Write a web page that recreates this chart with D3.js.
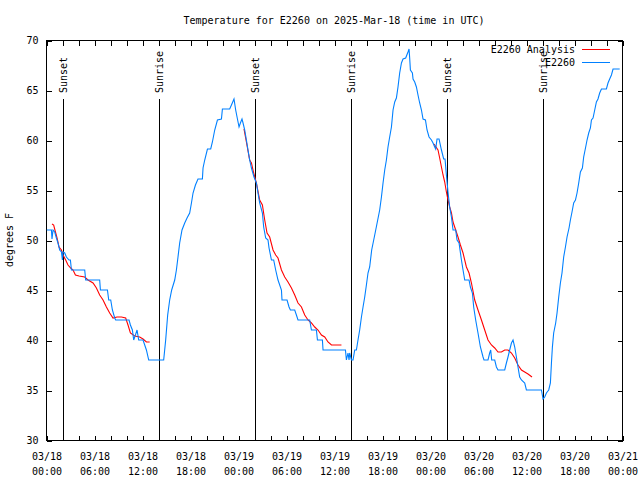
<!DOCTYPE html>
<html>
<head>
<meta charset="utf-8">
<script src="https://cdn.jsdelivr.net/npm/d3@7"></script>
<style>
  html, body { margin: 0; padding: 0; background: #fff; }
  svg { display: block; }
  text { font-family: "DejaVu Sans Mono", "Liberation Mono", monospace; font-size: 10px; fill: #000; }
</style>
</head>
<body>
<svg id="chart" width="640" height="480"></svg>
<script>
// ---------------- DATA ----------------
const chartTitle = "Temperature for E2260 on 2025-Mar-18 (time in UTC)";
const yAxisLabel = "degrees F";
const startUtc = "2025-03-18T00:00:00Z";
const spanHours = 72;
const yTickValues = [30, 35, 40, 45, 50, 55, 60, 65, 70];
const xTickStepHours = 2;
const xLabelStepHours = 6;

// Sun events: hours after 03/18 00:00 UTC
const sunEventHours = [2.15, 14.15, 26.15, 38.15, 50.15, 62.1];
const sunEventLabels = ["Sunset", "Sunrise", "Sunset", "Sunrise", "Sunset", "Sunrise"];

const seriesNames = ["E2260 Analysis", "E2260"];
const seriesColors = ["#ff0000", "#0080ff"];

// Observations (E2260): hours after start, temperature °F
const obsHours = [0.1,0.68,0.75,0.88,1.09,1.3,1.5,1.71,1.93,2.05,
  2.13,2.34,2.55,2.88,3.05,3.18,4.84,4.96,6.71,6.8,
  7.68,7.84,8.09,8.3,8.59,8.71,10.38,10.55,10.8,10.96,
  11.18,11.38,11.59,12.13,12.34,12.55,12.84,14.71,14.96,15.21,
  15.46,15.71,16.09,16.3,16.5,16.71,17.0,17.34,17.63,17.96,
  18.18,18.38,18.68,19.0,19.55,19.63,19.84,20.18,20.59,20.8,
  21.09,21.43,21.93,22.05,22.96,23.18,23.5,23.71,23.88,24.13,
  24.3,24.5,24.63,24.84,25.05,25.25,25.46,25.68,26.0,26.3,
  26.5,26.71,27.05,27.21,27.46,27.75,27.88,28.18,28.46,28.71,
  29.0,29.43,29.5,30.13,30.38,30.55,31.09,31.3,31.5,32.96,
  33.18,33.8,33.93,34.55,34.63,37.43,37.55,37.75,37.88,37.96,
  38.18,38.38,38.59,38.8,39.0,39.21,39.43,39.63,39.84,40.05,
  40.25,40.46,40.71,41.09,41.34,41.71,41.93,42.13,42.34,42.55,
  42.75,42.96,43.18,43.38,43.59,43.8,44.0,44.21,44.43,44.63,
  44.96,45.25,45.38,45.46,45.55,45.8,45.88,46.09,46.3,46.5,
  46.71,46.93,47.13,47.43,47.63,47.88,48.18,48.38,48.59,48.71,
  48.88,49.13,49.43,49.71,49.88,50.05,50.25,50.46,50.68,50.88,
  51.21,51.38,51.63,51.93,52.13,52.34,52.88,53.05,53.3,53.46,
  53.71,54.0,54.3,54.63,54.75,55.25,55.46,55.59,55.71,56.09,
  56.3,56.5,57.34,57.55,57.75,57.96,58.18,58.38,58.59,58.8,
  59.0,59.21,59.43,59.84,60.05,61.93,62.13,62.34,62.55,62.84,
  63.05,63.18,63.3,63.46,63.71,63.88,64.09,64.3,64.5,64.71,
  64.93,65.13,65.38,65.55,65.75,65.96,66.18,66.38,66.59,66.8,
  67.05,67.21,67.46,67.63,67.84,68.05,68.18,68.38,68.59,68.8,
  69.0,69.21,69.43,70.05,70.25,70.46,70.68,70.88,71.71];
const obsTempF = [51.0,51.0,50.1,51.0,50.8,50.2,49.7,49.0,48.8,48.0,
  48.8,48.7,48.3,48.0,48.0,47.0,47.0,46.0,46.0,45.0,
  45.0,44.0,44.0,43.0,42.2,42.0,42.0,41.5,41.0,40.0,
  40.5,41.0,40.0,40.0,39.5,39.0,38.0,38.0,40.0,42.5,
  44.0,45.0,46.0,47.0,48.3,49.7,51.0,51.7,52.2,52.7,
  53.7,54.7,55.5,56.1,56.1,57.2,58.0,59.1,59.1,59.8,
  61.0,62.0,62.1,63.1,63.1,63.5,64.1,63.0,62.3,61.3,
  61.7,62.1,61.7,61.0,60.0,59.0,58.0,57.2,56.3,55.7,
  54.7,53.7,52.7,51.3,50.2,50.0,49.2,48.0,48.0,47.0,
  46.0,45.0,44.0,44.0,43.3,43.0,43.0,42.5,42.0,42.0,
  41.0,41.0,40.0,40.0,39.0,39.0,38.0,38.7,38.0,38.7,
  38.0,38.0,39.0,39.0,40.0,41.0,42.3,43.3,44.3,45.5,
  46.7,47.3,49.0,50.5,51.5,53.0,54.3,55.7,57.0,58.0,
  59.3,60.3,61.3,63.0,63.8,64.2,65.3,66.7,67.7,68.1,
  68.2,68.8,69.1,68.2,67.0,66.7,66.1,65.8,65.3,64.5,
  63.7,63.0,62.1,62.0,61.0,60.3,60.0,59.7,59.3,59.1,
  60.1,60.1,59.0,58.1,58.1,56.5,54.8,53.3,52.3,51.0,
  51.0,50.0,49.7,48.0,47.0,46.0,46.0,45.3,44.7,43.3,
  42.0,40.7,39.3,38.3,38.0,38.0,38.7,39.0,38.0,38.0,
  37.3,37.0,37.0,37.7,38.3,39.0,39.7,40.0,39.3,38.3,
  37.3,36.3,36.0,35.7,35.0,35.0,34.1,34.3,34.7,35.0,
  35.7,37.7,39.3,40.7,41.7,42.7,44.3,45.7,46.7,48.3,
  49.3,50.3,51.2,52.0,52.8,53.7,54.0,54.7,55.7,56.8,
  57.2,58.3,59.3,60.0,60.7,61.2,62.0,62.2,63.0,63.8,
  64.1,64.7,65.1,65.1,65.7,66.1,66.5,67.1,67.1];

// Analysis (E2260 Analysis): null separates the three overnight segments
const anaHours = [0.75,0.96,1.18,1.38,1.63,1.93,2.13,2.46,2.75,3.09,
  3.38,3.68,4.13,4.84,5.25,5.88,6.3,6.71,7.13,7.55,
  7.96,8.38,8.88,9.43,9.96,10.25,10.55,11.09,11.71,12.13,
  12.55,12.96, null,
  24.75,25.05,25.46,25.68,25.96,26.3,26.71,27.05,27.34,27.63,
  27.96,28.38,28.71,29.0,29.43,29.84,30.25,30.68,31.09,31.5,
  31.93,32.34,32.75,33.18,33.59,34.0,34.43,34.84,35.25,35.68,
  36.93, null,
  48.5,49.0,49.21,49.43,49.63,49.84,50.05,50.25,50.46,50.68,
  50.88,51.21,51.5,51.8,52.13,52.55,52.88,53.18,53.59,54.0,
  54.43,54.84,55.25,55.68,56.09,56.5,56.93,57.34,57.75,58.18,
  58.59,59.0,59.43,59.84,60.25,60.75];
const anaTempF = [51.6,51.5,50.8,50.2,49.3,49.0,48.5,48.0,47.5,47.2,
  47.0,46.5,46.4,46.3,46.0,45.7,45.2,44.5,44.0,43.3,
  42.7,42.2,42.3,42.3,42.2,41.5,40.7,40.4,40.3,40.1,
  39.8,39.8, null,
  61.1,59.8,58.0,57.7,56.7,55.7,54.0,53.5,52.0,50.7,
  50.3,49.0,48.5,48.2,47.0,46.3,45.8,45.2,44.5,43.7,
  43.3,42.5,42.0,41.7,41.3,41.0,40.5,40.3,39.8,39.5,
  39.5, null,
  59.6,59.0,58.2,57.3,56.5,55.8,54.8,54.0,53.3,52.7,
  51.8,51.0,50.3,49.5,48.7,47.3,46.7,45.7,44.0,43.0,
  42.0,41.0,40.0,39.5,39.2,38.8,38.8,39.0,39.0,38.7,
  38.2,37.5,37.0,36.8,36.6,36.3];

// ---------------- CHART ----------------
const W = 640, H = 480;
const margin = { left: 46, right: 18, top: 40, bottom: 40 };
const x0 = margin.left, x1 = W - margin.right, y0 = margin.top, y1 = H - margin.bottom;

const t0 = new Date(startUtc);
const hourToDate = h => new Date(t0.getTime() + h * 3600 * 1000);

const x = d3.scaleUtc().domain([t0, hourToDate(spanHours)]).range([x0, x1]);
const y = d3.scaleLinear().domain([30, 70]).range([y1, y0]);

const svg = d3.select("#chart");
svg.append("rect").attr("width", W).attr("height", H).attr("fill", "#fff");

const xTicks = d3.range(0, spanHours + 0.001, xTickStepHours).map(hourToDate);
const fmtDate = d3.utcFormat("%m/%d");
const fmtTime = d3.utcFormat("%H:%M");

// Bottom axis (inward ticks) with two-line labels
const gx = svg.append("g").attr("transform", `translate(0.5,${y1 + 0.5})`)
  .call(d3.axisBottom(x).tickValues(xTicks).tickSize(-5).tickSizeOuter(0).tickFormat(""));
gx.selectAll(".tick").each(function(d) {
  const h = Math.round((d - t0) / 3600000);
  if (h % xLabelStepHours === 0) {
    const t = d3.select(this).select("text").attr("y", 0).attr("dy", null).text(null);
    t.append("tspan").attr("x", 0).attr("y", 19).text(fmtDate(d));
    t.append("tspan").attr("x", 0).attr("y", 34).text(fmtTime(d));
  }
});
// Top axis (mirror ticks)
svg.append("g").attr("transform", `translate(0.5,${y0 + 0.5})`)
  .call(d3.axisTop(x).tickValues(xTicks).tickSize(-5).tickSizeOuter(0).tickFormat(""));
// Left axis
const gy = svg.append("g").attr("transform", `translate(${x0 + 0.5},0.5)`)
  .call(d3.axisLeft(y).tickValues(yTickValues).tickSize(-5).tickSizeOuter(0).tickPadding(8));
// Right axis (mirror ticks)
svg.append("g").attr("transform", `translate(${x1 + 0.5},0.5)`)
  .call(d3.axisRight(y).tickValues(yTickValues).tickSize(-5).tickSizeOuter(0).tickFormat(""));

svg.selectAll(".domain").remove();
svg.selectAll(".tick line").attr("stroke", "#000").attr("shape-rendering", "crispEdges");
svg.selectAll(".tick text").attr("font-family", null).attr("font-size", null).attr("fill", "#000");

// Frame
svg.append("rect")
  .attr("x", x0 + 0.5).attr("y", y0 + 0.5)
  .attr("width", x1 - x0).attr("height", y1 - y0)
  .attr("fill", "none").attr("stroke", "#000").attr("shape-rendering", "crispEdges");

// Title and y label
svg.append("text").attr("x", (x0 + x1) / 2).attr("y", 24)
  .attr("text-anchor", "middle").text(chartTitle);
svg.append("text").attr("transform", `translate(13,${(y0 + y1) / 2}) rotate(-90)`)
  .attr("text-anchor", "middle").text(yAxisLabel);

// Sun event lines
const sun = svg.append("g");
sunEventHours.forEach((h, i) => {
  const sx = Math.round(x(hourToDate(h))) + 0.5;
  sun.append("line").attr("x1", sx).attr("x2", sx).attr("y1", 99).attr("y2", y1)
    .attr("stroke", "#000").attr("shape-rendering", "crispEdges");
  sun.append("text").attr("transform", `translate(${sx},93) rotate(-90)`)
    .attr("dy", "0.35em").attr("text-anchor", "start").text(sunEventLabels[i]);
});

// Series lines
const anaData = anaHours.map((h, i) => ({ h, v: anaTempF[i] }));
const obsData = obsHours.map((h, i) => ({ h, v: obsTempF[i] }));
const line = d3.line()
  .defined(d => d.h != null && d.v != null)
  .x(d => x(hourToDate(d.h)))
  .y(d => y(d.v));

svg.append("path").datum(anaData).attr("d", line)
  .attr("fill", "none").attr("stroke", seriesColors[0]).attr("stroke-width", 1.1);
svg.append("path").datum(obsData).attr("d", line)
  .attr("fill", "none").attr("stroke", seriesColors[1]).attr("stroke-width", 1.1);

// Legend
const legendRows = [49, 62];
seriesNames.forEach((name, i) => {
  svg.append("text").attr("x", 575).attr("y", legendRows[i]).attr("dy", "0.35em")
    .attr("text-anchor", "end").text(name);
  svg.append("line").attr("x1", 582).attr("x2", 610)
    .attr("y1", legendRows[i] + 0.5).attr("y2", legendRows[i] + 0.5)
    .attr("stroke", seriesColors[i]).attr("shape-rendering", "crispEdges");
});
</script>
</body>
</html>
